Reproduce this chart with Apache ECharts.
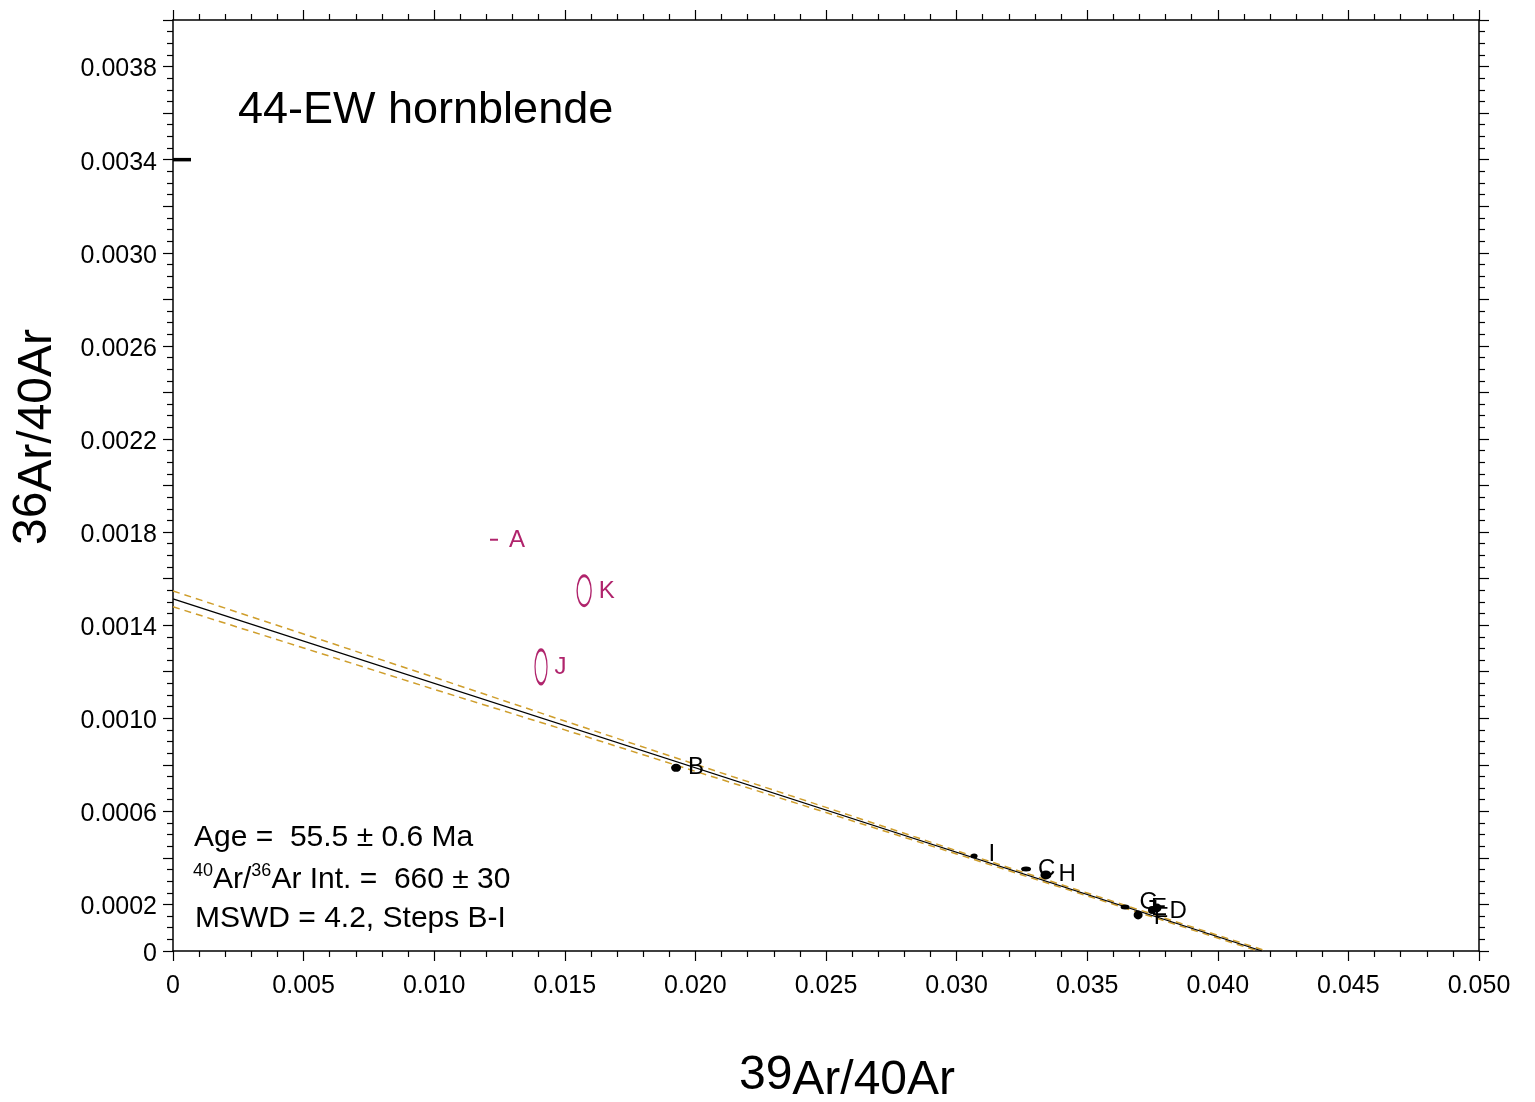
<!DOCTYPE html>
<html>
<head>
<meta charset="utf-8">
<script src="https://cdn.jsdelivr.net/npm/echarts@6/dist/echarts.min.js"></script>
<style>
  html, body { margin: 0; padding: 0; background: #fff; }
  #chart { width: 1535px; height: 1102px; }
</style>
</head>
<body>
<div id="chart"></div>
<script>
// included steps (black)
const stepNames = ["B", "C", "D", "E", "F", "G", "H", "I"];
const stepX = [0.01926, 0.03266, 0.03767, 0.03748, 0.03695, 0.03645, 0.03342, 0.03067];
const stepY = [0.000787, 0.000352, 0.000185, 0.000176, 0.000155, 0.000189, 0.000327, 0.000408];

// excluded steps (magenta)
const outNames = ["A", "K", "J"];
const outX = [0.01229, 0.01574, 0.01409];
const outY = [0.001767, 0.001548, 0.001221];

// isochron fit and its error envelope
const fitX = [0, 0.04169];
const fitY = [0.001513, 0];
const upperX = [0, 0.005, 0.010, 0.015, 0.020, 0.025, 0.030, 0.035, 0.04186];
const upperY = [0.001547, 0.001362, 0.001176, 0.000988, 0.000802, 0.000617, 0.000431, 0.000249, 0];
const lowerX = [0, 0.005, 0.010, 0.015, 0.020, 0.025, 0.030, 0.035, 0.04153];
const lowerY = [0.001479, 0.001302, 0.001124, 0.000950, 0.000772, 0.000595, 0.000417, 0.000237, 0];

// atmospheric 36/40 marker on the y axis
const atmX = [0];
const atmY = [0.0034];

const FONT = "'Liberation Sans', Arial, Helvetica, sans-serif";
const MAGENTA = "#b0246c";
const GOLD = "#cf9e2c";

// symbol shape per step (error ellipse look)
const stepSymbol = {
  B: [10, 8], C: [10, 5], D: [9, 9], E: [8, 8], F: [9, 9], G: [9, 5], H: [11, 9], I: [7, 5]
};
// label nudges so the crowded letters sit like the original
const stepLabelOffset = {
  B: [2, 0], C: [2, 0], D: [3, 3], E: [-10, -2], F: [6, 2], G: [5, -5], H: [2, -1], I: [6, -2]
};
const outSymbol = { A: ["rect", [8, 2]], K: ["circle", [14, 30]], J: ["circle", [12, 34]] };
const outLabelOffset = { A: [6, 1], K: [2, 1], J: [2, 1] };

function zip(xs, ys) {
  return xs.map((x, i) => [x, ys[i]]);
}

const chart = echarts.init(document.getElementById("chart"));

const tickStyle = { color: "#000", width: 1.2 };

function xAxisCfg(pos, labels) {
  return {
    type: "value",
    position: pos,
    min: 0,
    max: 0.05,
    interval: 0.005,
    axisLine: { show: true, onZero: false, lineStyle: { color: "#000", width: 1.5 } },
    axisTick: { show: true, inside: false, length: 10, lineStyle: tickStyle },
    minorTick: { show: true, splitNumber: 5, length: 6, lineStyle: tickStyle },
    splitLine: { show: false },
    minorSplitLine: { show: false },
    axisLabel: {
      show: labels,
      margin: 23,
      fontSize: 25,
      fontFamily: FONT,
      color: "#000",
      formatter: (v) => (v === 0 ? "0" : v.toFixed(3))
    }
  };
}

function yAxisCfg(pos, labels) {
  return {
    type: "value",
    position: pos,
    min: 0,
    max: 0.004,
    interval: 0.0002,
    axisLine: { show: true, onZero: false, lineStyle: { color: "#000", width: 1.5 } },
    axisTick: { show: true, inside: false, length: 10, lineStyle: tickStyle },
    minorTick: { show: true, splitNumber: 4, length: 6, lineStyle: tickStyle },
    splitLine: { show: false },
    minorSplitLine: { show: false },
    axisLabel: {
      show: labels,
      margin: 16,
      color: "#000",
      formatter: function (v) {
        if (v === 0) return "{v|0}";
        const k = Math.round(v / 0.0002);
        return k % 2 === 1 ? "{v|" + v.toFixed(4) + "}" : "";
      },
      rich: {
        v: { fontSize: 25, fontFamily: FONT, color: "#000", padding: [6, 0, 0, 0] }
      }
    }
  };
}

const option = {
  backgroundColor: "#fff",
  animation: false,
  grid: { left: 173, right: 56, top: 20, bottom: 151, containLabel: false },
  xAxis: [xAxisCfg("bottom", true), xAxisCfg("top", false)],
  yAxis: [yAxisCfg("left", true), yAxisCfg("right", false)],
  series: [
    {
      name: "upper",
      type: "line",
      data: zip(upperX, upperY),
      symbol: "none",
      lineStyle: { color: GOLD, width: 1.5, type: [7, 5] }
    },
    {
      name: "lower",
      type: "line",
      data: zip(lowerX, lowerY),
      symbol: "none",
      lineStyle: { color: GOLD, width: 1.5, type: [7, 5] }
    },
    {
      name: "fit",
      type: "line",
      data: zip(fitX, fitY),
      symbol: "none",
      lineStyle: { color: "#000", width: 1.3 }
    },
    {
      name: "atm",
      type: "scatter",
      clip: false,
      data: zip(atmX, atmY),
      symbol: "rect",
      symbolSize: [18, 3.5],
      symbolOffset: [9, 0],
      itemStyle: { color: "#000", opacity: 1 }
    },
    {
      name: "steps",
      type: "scatter",
      data: stepNames.map((n, i) => ({
        name: n,
        value: [stepX[i], stepY[i]],
        symbolSize: stepSymbol[n],
        label: { offset: stepLabelOffset[n] }
      })),
      symbol: "circle",
      itemStyle: { color: "#000", opacity: 1 },
      label: {
        show: true,
        position: "right",
        distance: 5,
        formatter: "{b}",
        fontSize: 24,
        fontFamily: FONT,
        color: "#000"
      },
      z: 5
    },
    {
      name: "excluded",
      type: "scatter",
      data: outNames.map((n, i) => ({
        name: n,
        value: [outX[i], outY[i]],
        symbol: outSymbol[n][0],
        symbolSize: outSymbol[n][1],
        itemStyle: n === "A"
          ? { color: MAGENTA, opacity: 1 }
          : { color: "rgba(0,0,0,0)", borderColor: MAGENTA, borderWidth: 2, opacity: 1 },
        label: { offset: outLabelOffset[n] }
      })),
      label: {
        show: true,
        position: "right",
        distance: 5,
        formatter: "{b}",
        fontSize: 24,
        fontFamily: FONT,
        color: MAGENTA
      },
      z: 5
    }
  ],
  graphic: [
    {
      type: "text",
      x: 238,
      y: 111,
      style: {
        text: "44-EW hornblende",
        font: "45px " + FONT,
        fill: "#000",
        textAlign: "left",
        verticalAlign: "middle"
      }
    },
    {
      type: "text",
      x: 194,
      y: 838,
      style: {
        text: "Age =  55.5 ± 0.6 Ma",
        font: "30px " + FONT,
        fill: "#000",
        textAlign: "left",
        verticalAlign: "middle"
      }
    },
    {
      type: "text",
      x: 193,
      y: 877,
      style: {
        text: "{s|40}{n|Ar/}{s|36}{n|Ar Int. =  660 ± 30}",
        fill: "#000",
        textAlign: "left",
        verticalAlign: "middle",
        rich: {
          s: { fontSize: 18, fontFamily: FONT, verticalAlign: "top", lineHeight: 18 },
          n: { fontSize: 30, fontFamily: FONT, verticalAlign: "middle", lineHeight: 30, padding: [6, 0, 0, 0] }
        }
      }
    },
    {
      type: "text",
      x: 195,
      y: 919,
      style: {
        text: "MSWD = 4.2, Steps B-I",
        font: "30px " + FONT,
        fill: "#000",
        textAlign: "left",
        verticalAlign: "middle"
      }
    },
    {
      type: "text",
      x: 847,
      y: 1076,
      style: {
        text: "{a|39}{b|Ar/40Ar}",
        fill: "#000",
        textAlign: "center",
        verticalAlign: "middle",
        rich: {
          a: { fontSize: 48, fontFamily: FONT, verticalAlign: "top", lineHeight: 48 },
          b: { fontSize: 48, fontFamily: FONT, verticalAlign: "middle", lineHeight: 48, padding: [10, 0, 0, 0] }
        }
      }
    },
    {
      type: "text",
      x: 33,
      y: 437,
      rotation: Math.PI / 2,
      style: {
        text: "{a|36}{b|Ar/40Ar}",
        fill: "#000",
        textAlign: "center",
        verticalAlign: "middle",
        rich: {
          a: { fontSize: 48, fontFamily: FONT, verticalAlign: "top", lineHeight: 48 },
          b: { fontSize: 48, fontFamily: FONT, verticalAlign: "middle", lineHeight: 48, padding: [10, 0, 0, 0] }
        }
      }
    }
  ]
};

chart.setOption(option);
</script>
</body>
</html>
